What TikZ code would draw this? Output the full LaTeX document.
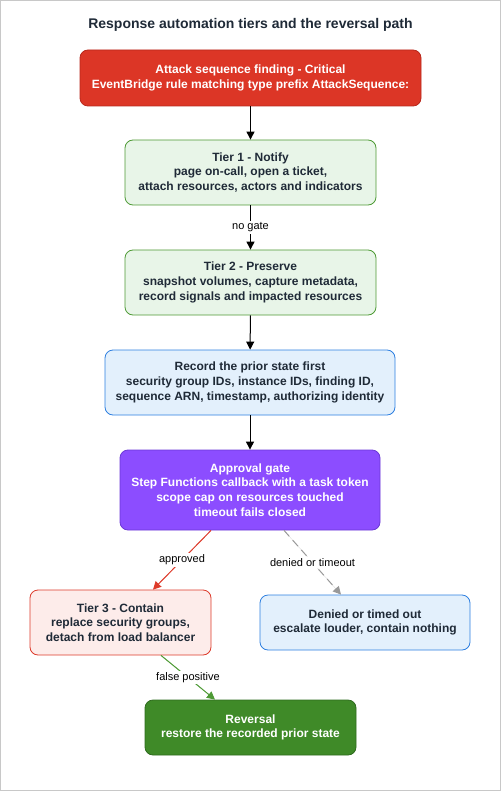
\documentclass[tikz,border=0pt]{standalone}
\usepackage{fontspec}
\setmainfont{Liberation Sans}
\usetikzlibrary{arrows.meta}
\definecolor{txt}{HTML}{1F2A37}
\definecolor{redfill}{HTML}{DC3626}
\definecolor{redline}{HTML}{B8281C}
\definecolor{gfill}{HTML}{E8F5E8}
\definecolor{gline}{HTML}{4E9A35}
\definecolor{bfill}{HTML}{E3F0FC}
\definecolor{bline}{HTML}{2D7FE0}
\definecolor{pfill}{HTML}{8C4DFF}
\definecolor{pline}{HTML}{6B38D6}
\definecolor{lrfill}{HTML}{FDECEA}
\definecolor{lrline}{HTML}{DD3A2A}
\definecolor{dgfill}{HTML}{3F8A28}
\definecolor{dgline}{HTML}{2E6B1E}
\definecolor{frame}{HTML}{C8C8C8}
\definecolor{dashgray}{HTML}{999999}
\begin{document}
\begin{tikzpicture}[x=1pt,y=-1pt,
  box/.style={rounded corners=8pt,line width=0.8pt,align=center,inner sep=0pt,
    font=\fontsize{12}{14.6}\selectfont\bfseries,text=txt,
    execute at begin node={\rule{0pt}{12.6pt}}},
  conn/.style={line width=1pt,-{Triangle[length=8pt,width=8pt]}},
  lbl/.style={fill=white,inner sep=1.5pt,font=\fontsize{11}{13}\selectfont,text=black}]
\draw[frame,line width=1pt] (0.5,0.5) rectangle (500.5,790.5);
\useasboundingbox (0,0) rectangle (501,791);
\node[font=\fontsize{14}{16}\selectfont\bfseries,text=txt] (title) at (250.5,24.5) {Response automation tiers and the reversal path};
\node[box,fill=redfill,draw=redline,text=white,minimum width=341pt,minimum height=56pt] (src) at (250.5,78)
 {Attack sequence finding - Critical\\EventBridge rule matching type prefix AttackSequence:};
\node[box,fill=gfill,draw=gline,minimum width=251pt,minimum height=65pt] (t1) at (250.5,172.5)
 {Tier 1 - Notify\\page on-call, open a ticket,\\attach resources, actors and indicators};
\node[box,fill=gfill,draw=gline,minimum width=251pt,minimum height=65pt] (t2) at (250.5,282.5)
 {Tier 2 - Preserve\\snapshot volumes, capture metadata,\\record signals and impacted resources};
\node[box,fill=bfill,draw=bline,minimum width=290pt,minimum height=65pt] (rec) at (250,382.5)
 {Record the prior state first\\security group IDs, instance IDs, finding ID,\\sequence ARN, timestamp, authorizing identity};
\node[box,fill=pfill,draw=pline,text=white,minimum width=260pt,minimum height=80pt] (appr) at (250,490)
 {Approval gate\\Step Functions callback with a task token\\scope cap on resources touched\\timeout fails closed};
\node[box,fill=lrfill,draw=lrline,minimum width=181pt,minimum height=65pt] (t3) at (120.5,622.5)
 {Tier 3 - Contain\\replace security groups,\\detach from load balancer};
\node[box,fill=bfill,draw=bline,minimum width=210pt,minimum height=55pt] (deny) at (365,622.5)
 {Denied or timed out\\escalate louder, contain nothing};
\node[box,fill=dgfill,draw=dgline,text=white,minimum width=211pt,minimum height=55pt] (rev) at (250.5,727.5)
 {Reversal\\restore the recorded prior state};
\coordinate (a1) at ([xshift=-39pt]appr.south);
\coordinate (a2) at ([xshift=32.5pt]t3.north);
\coordinate (d1) at ([xshift=34pt]appr.south);
\coordinate (d2) at ([xshift=-24pt]deny.north);
\coordinate (f1) at ([xshift=40.5pt]t3.south);
\coordinate (f2) at ([xshift=-35.5pt]rev.north);
\draw[conn] (src) -- (t1);
\draw[conn] (t1) -- node[lbl]{no gate} (t2);
\draw[conn] (t2) -- (rec);
\draw[conn] (rec) -- (appr);
\draw[conn,draw=lrline,fill=lrline] (a1) -- node[lbl]{approved} (a2);
\draw[conn,draw=dashgray,fill=dashgray,dash pattern=on 8pt off 5pt] (d1) -- node[lbl]{denied or timeout} (d2);
\draw[conn,draw=gline,fill=gline] (f1) -- node[lbl]{false positive} (f2);
\end{tikzpicture}
\end{document}
